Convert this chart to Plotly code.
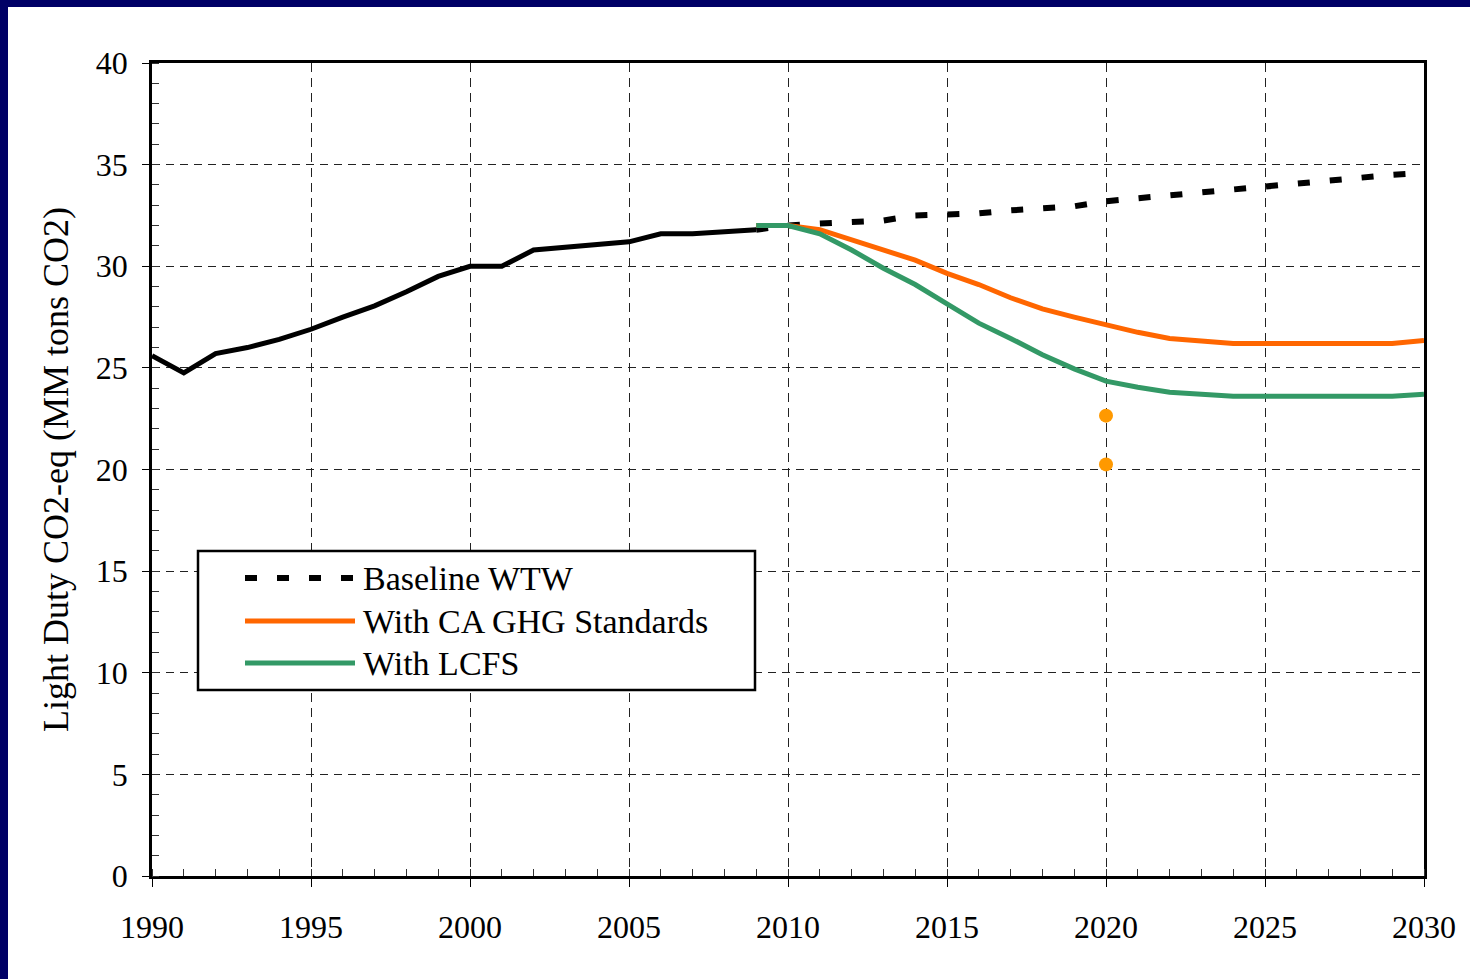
import plotly.graph_objects as go

# ---------------- data ----------------
hist_years = list(range(1990, 2010))
hist_vals = [25.6, 24.75, 25.7, 26.0, 26.4, 26.9, 27.5, 28.05, 28.75, 29.5,
             30.0, 30.0, 30.8, 30.95, 31.05, 31.2, 31.6, 31.6, 31.7, 31.8]

proj_years = list(range(2009, 2031))
baseline_vals = [31.8, 32.0, 32.1, 32.2, 32.25, 32.5, 32.55, 32.6, 32.75, 32.85, 32.95,
                 33.2, 33.35, 33.5, 33.65, 33.8, 33.95, 34.1, 34.2, 34.35, 34.5, 34.6]
ca_ghg_vals = [32.0, 32.0, 31.8, 31.3, 30.8, 30.3, 29.65, 29.1, 28.45, 27.9, 27.5,
               27.1, 26.75, 26.45, 26.3, 26.2, 26.2, 26.2, 26.2, 26.2, 26.2, 26.35]
lcfs_vals = [32.0, 32.0, 31.6, 30.8, 29.9, 29.1, 28.15, 27.2, 26.45, 25.65, 24.95,
             24.35, 24.05, 23.8, 23.7, 23.6, 23.6, 23.6, 23.6, 23.6, 23.6, 23.7]

target_years = [2020, 2020]
target_vals = [22.65, 20.25]

x_ticks = [1990, 1995, 2000, 2005, 2010, 2015, 2020, 2025, 2030]
y_ticks = [0, 5, 10, 15, 20, 25, 30, 35, 40]

legend_names = ["Baseline WTW", "With CA GHG Standards", "With LCFS"]

# ---------------- figure ----------------
FONT = "Liberation Serif, Times New Roman, serif"
W, H = 1470, 979
L, R, T, B = 152, 46, 63, 103
PW, PH = W - L - R, H - T - B

BASE_LINE = dict(color="black", width=6, dash="12px,20px")
CA_LINE = dict(color="#FF6600", width=5)
LCFS_LINE = dict(color="#339966", width=5)

fig = go.Figure()
fig.add_trace(go.Scatter(x=proj_years, y=baseline_vals, mode="lines",
                         name=legend_names[0], line=BASE_LINE))
fig.add_trace(go.Scatter(x=hist_years, y=hist_vals, mode="lines",
                         name="Historical", line=dict(color="black", width=5)))
fig.add_trace(go.Scatter(x=proj_years, y=ca_ghg_vals, mode="lines",
                         name=legend_names[1], line=CA_LINE))
fig.add_trace(go.Scatter(x=proj_years, y=lcfs_vals, mode="lines",
                         name=legend_names[2], line=LCFS_LINE))
fig.add_trace(go.Scatter(x=target_years, y=target_vals, mode="markers",
                         name="Targets", marker=dict(color="#FF9900", size=14)))


def px_x(px):
    return (px - L) / PW


def px_y(py):
    return (H - B - py) / PH


shapes = [
    # navy frame (left and top)
    dict(type="rect", xref="paper", yref="paper",
         x0=px_x(0), x1=px_x(8), y0=px_y(H), y1=px_y(0),
         fillcolor="#000066", line=dict(width=0), layer="below"),
    dict(type="rect", xref="paper", yref="paper",
         x0=px_x(0), x1=px_x(W), y0=px_y(7), y1=px_y(0),
         fillcolor="#000066", line=dict(width=0), layer="below"),
    # legend box
    dict(type="rect", xref="paper", yref="paper",
         x0=px_x(198), x1=px_x(755), y0=px_y(690), y1=px_y(551),
         fillcolor="white", line=dict(color="black", width=2.5), layer="above"),
]
annotations = []
row_y = [578, 621, 663]
row_lines = [BASE_LINE, CA_LINE, LCFS_LINE]
for name, ly, lstyle in zip(legend_names, row_y, row_lines):
    shapes.append(dict(type="line", xref="paper", yref="paper",
                       x0=px_x(245), x1=px_x(355), y0=px_y(ly), y1=px_y(ly),
                       line=dict(color=lstyle["color"], width=lstyle["width"],
                                 dash=lstyle.get("dash", "solid")),
                       layer="above"))
    annotations.append(dict(xref="paper", yref="paper", x=px_x(361), y=px_y(ly),
                            xanchor="left", yanchor="middle", showarrow=False,
                            text=name, font=dict(family=FONT, size=34, color="black")))

fig.update_layout(
    width=W, height=H,
    margin=dict(l=L, r=R, t=T, b=B, pad=0),
    paper_bgcolor="white", plot_bgcolor="white",
    font=dict(family=FONT, size=32, color="black"),
    shapes=shapes, annotations=annotations,
    showlegend=False,
)

fig.update_xaxes(
    range=[1990, 2030], tickvals=x_ticks, ticktext=[str(v) for v in x_ticks],
    showline=True, linecolor="black", linewidth=2.5, mirror=True,
    ticks="outside", ticklen=8, tickwidth=1.2, tickcolor="black",
    ticklabelstandoff=13,
    showgrid=True, gridcolor="#222", gridwidth=1, griddash="9px,6px",
    zeroline=False,
    minor=dict(dtick=1, ticks="inside", ticklen=7, tickcolor="#333", tickwidth=1, showgrid=False),
    tickfont=dict(family=FONT, size=32, color="black"),
)
fig.update_yaxes(
    range=[0, 40], tickvals=y_ticks, ticktext=[str(v) for v in y_ticks],
    showline=True, linecolor="black", linewidth=2.5, mirror=True,
    ticks="outside", ticklen=7, tickwidth=1.2, tickcolor="black",
    ticklabelstandoff=8,
    showgrid=True, gridcolor="#222", gridwidth=1, griddash="8px,6px",
    zeroline=False,
    minor=dict(dtick=1, ticks="inside", ticklen=7, tickcolor="#333", tickwidth=1, showgrid=False),
    tickfont=dict(family=FONT, size=32, color="black"),
    title=dict(text="Light Duty CO2-eq (MM tons CO2)", standoff=17,
               font=dict(family=FONT, size=36, color="black")),
)

fig.write_html("out.html", config={"displayModeBar": False},
               post_script="document.body.style.margin='0';")
